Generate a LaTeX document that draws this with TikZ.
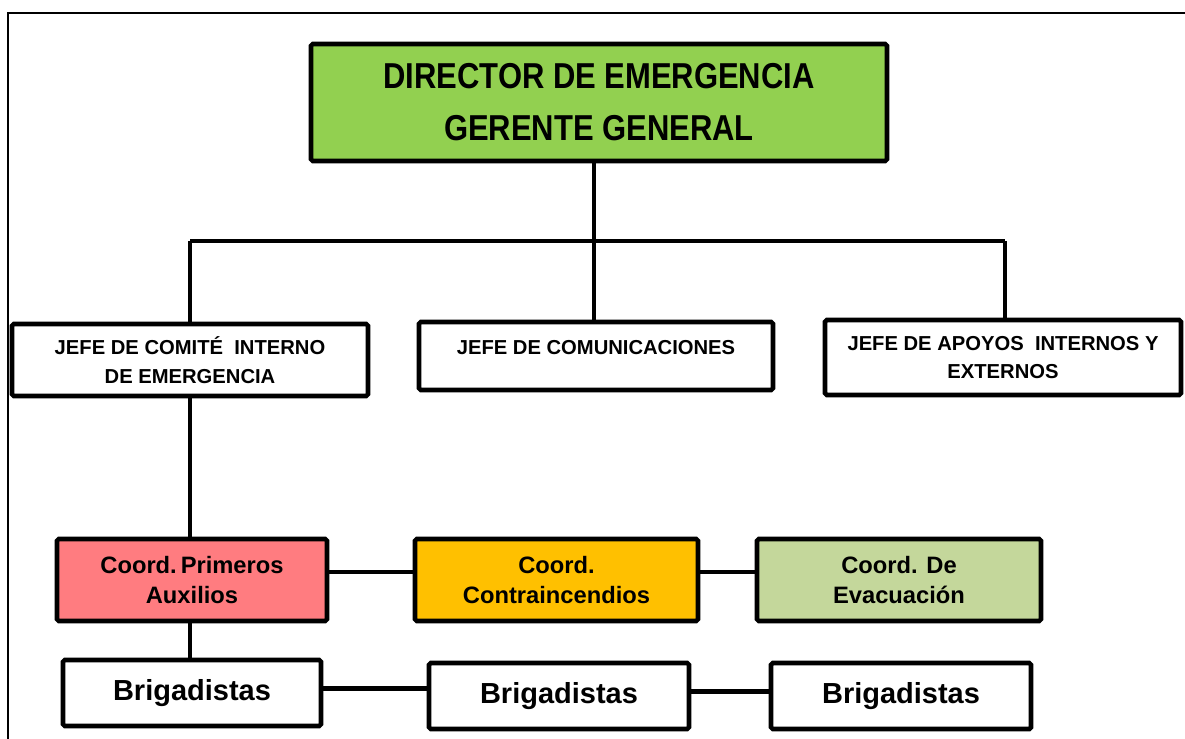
\documentclass[tikz,border=0pt]{standalone}
\usepackage{fontspec}
\setmainfont{Liberation Sans}
\newfontfamily\narrowfont{Liberation Sans}[FakeStretch=0.86]
\usetikzlibrary{positioning}
\definecolor{dirgreen}{HTML}{92D050}
\definecolor{auxred}{HTML}{FF7C80}
\definecolor{fireorange}{HTML}{FFC000}
\definecolor{evacgreen}{HTML}{C4D79B}
\tikzset{box/.style={draw=black, line width=2.6pt, rounded corners=1pt, fill=white,
  align=center, inner sep=0pt, font=\bfseries},
  conn/.style={black, line width=2.6pt}}

\begin{document}
\begin{tikzpicture}[x=0.02cm, y=-0.02cm]
      \useasboundingbox (0, 0) rectangle (1185, 739);
      \draw [line width=0.9pt] (8, 739) -- (8, 13) -- (1185, 13);

      \node [box, fill=dirgreen, minimum width=576*0.02cm, minimum height=117*0.02cm,
        font=\narrowfont\bfseries\fontsize{20.5}{29.5}\selectfont] (dir) at (599, 102.5)
        {DIRECTOR DE EMERGENCIA\\GERENTE GENERAL};

      \node [box, minimum width=356*0.02cm, minimum height=72*0.02cm,
        font=\bfseries\fontsize{11.5}{16.4}\selectfont] (jefeci) at (190, 360)
        {JEFE DE COMITÉ \ INTERNO\\DE EMERGENCIA};
      \node [box, minimum width=354*0.02cm, minimum height=68*0.02cm,
        font=\bfseries\fontsize{11.5}{16.4}\selectfont] (jefecom) at (596, 356)
        {JEFE DE COMUNICACIONES\\[-6.4pt]\mbox{}};
      \node [box, minimum width=356*0.02cm, minimum height=75*0.02cm,
        font=\bfseries\fontsize{11.5}{16.4}\selectfont] (jefeapo) at (1003, 357.5)
        {JEFE DE APOYOS \ INTERNOS Y\\EXTERNOS};

      \node [box, fill=auxred, minimum width=270*0.02cm, minimum height=82*0.02cm,
        font=\bfseries\fontsize{13.5}{17.6}\selectfont] (coordpa) at (192, 580)
        {Coord.\,Primeros\\Auxilios};
      \node [box, fill=fireorange, minimum width=283*0.02cm, minimum height=82*0.02cm,
        font=\bfseries\fontsize{13.5}{17.6}\selectfont] (coordci) at (556.5, 580)
        {Coord.\\Contraincendios};
      \node [box, fill=evacgreen, minimum width=284*0.02cm, minimum height=82*0.02cm,
        font=\bfseries\fontsize{13.5}{17.6}\selectfont] (coordev) at (899, 580)
        {Coord. De\\Evacuación};

      \node [box, minimum width=258*0.02cm, minimum height=66*0.02cm,
        font=\bfseries\fontsize{16.5}{20}\selectfont] (brigpa) at (192, 693) {Brigadistas};
      \node [box, minimum width=260*0.02cm, minimum height=66*0.02cm,
        font=\bfseries\fontsize{16.5}{20}\selectfont] (brigci) at (559, 696) {Brigadistas};
      \node [box, minimum width=260*0.02cm, minimum height=66*0.02cm,
        font=\bfseries\fontsize{16.5}{20}\selectfont] (brigev) at (901, 696) {Brigadistas};

      \coordinate (barL) at (190, 241);
      \coordinate (barM) at (594, 241);
      \coordinate (barR) at (1005, 241);
      \draw [conn] (barL) -- (barR);
      \draw [conn] (dir.south -| barM) -- (barM);
      \draw [conn] (barL) -- (barL |- jefeci.north);
      \draw [conn] (barM) -- (barM |- jefecom.north);
      \draw [conn] (barR) -- (barR |- jefeapo.north);

      \draw [conn] (jefeci.south -| barL) -- (barL |- coordpa.north);
      \draw [conn] ([yshift=4.5pt]coordpa.east) -- ([yshift=4.5pt]coordci.west);
      \draw [conn] ([yshift=4.5pt]coordci.east) -- ([yshift=4.5pt]coordev.west);

      \draw [conn] (coordpa.south -| barL) -- (barL |- brigpa.north);
      \draw [conn] ([yshift=2.5pt]brigpa.east) -- ([yshift=2.5pt]brigpa.east -| brigci.west);
      \draw [conn] ([yshift=2.5pt]brigci.east) -- ([yshift=2.5pt]brigev.west);
    \end{tikzpicture}
\end{document}
